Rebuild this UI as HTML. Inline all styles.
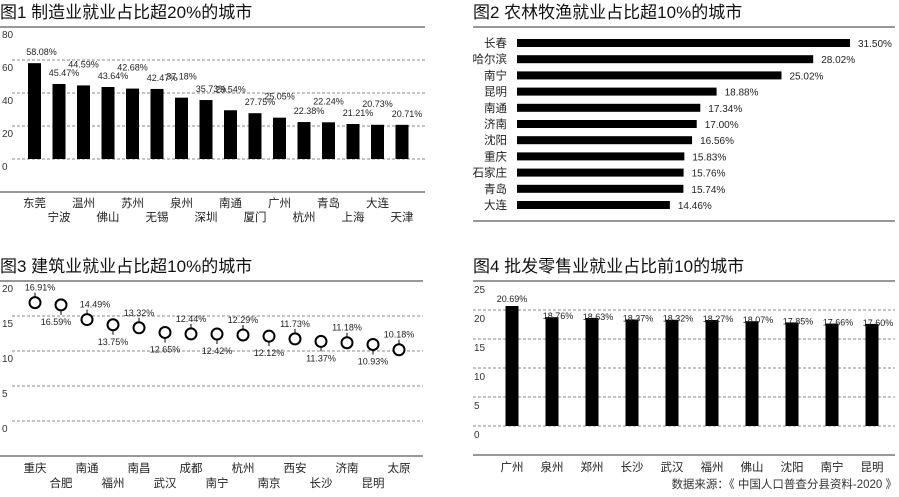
<!DOCTYPE html>
<html><head><meta charset="utf-8"><style>
body{margin:0;background:#fff;}
svg{display:block;font-family:"Liberation Sans","Noto Sans CJK SC",sans-serif;}
.t{font-size:17px;fill:#111;}
.tk{font-size:10px;fill:#333;}
.v{font-size:9px;fill:#222;}
.c{font-size:11.5px;fill:#222;}
.g{stroke:#888;stroke-dasharray:3,2;stroke-width:1;}
.s{stroke:#777;stroke-width:1.5;}
</style></head><body>
<svg id="svg" width="899" height="497" viewBox="0 0 899 497">
<text class="t" x="0" y="18">图1 制造业就业占比超20%的城市</text>
<text class="t" x="473" y="18">图2 农林牧渔就业占比超10%的城市</text>
<text class="t" x="0" y="272">图3 建筑业就业占比超10%的城市</text>
<text class="t" x="473" y="272">图4  批发零售业就业占比前10的城市</text>
<text x="897" y="488" text-anchor="end" style="font-size:11.5px;fill:#333">数据来源：《 中国人口普查分县资料-2020 》</text>
</svg>
<script>
const ns='http://www.w3.org/2000/svg';
const svg=document.getElementById('svg');
function mk(tag,attrs,txt){const e=document.createElementNS(ns,tag);for(const k in attrs)e.setAttribute(k,attrs[k]);if(txt!==undefined)e.textContent=txt;svg.appendChild(e);return e;}

// Chart 1 data
const c1Cities=['东莞','宁波','温州','佛山','苏州','无锡','泉州','深圳','南通','厦门','广州','杭州','青岛','上海','大连','天津'];
const c1Values=[58.08,45.47,44.59,43.64,42.68,42.47,37.18,35.73,29.54,27.75,25.05,22.38,22.24,21.21,20.73,20.71];
const c1Ticks=[0,20,40,60,80];
// Chart 2 data
const c2Cities=['长春','哈尔滨','南宁','昆明','南通','济南','沈阳','重庆','石家庄','青岛','大连'];
const c2Values=[31.50,28.02,25.02,18.88,17.34,17.00,16.56,15.83,15.76,15.74,14.46];
// Chart 3 data
const c3Cities=['重庆','合肥','南通','福州','南昌','武汉','成都','南宁','杭州','南京','西安','长沙','济南','昆明','太原'];
const c3Values=[16.91,16.59,14.49,13.75,13.32,12.65,12.44,12.42,12.29,12.12,11.73,11.37,11.18,10.93,10.18];
const c3Ticks=[0,5,10,15,20];
// Chart 4 data
const c4Cities=['广州','泉州','郑州','长沙','武汉','福州','佛山','沈阳','南宁','昆明'];
const c4Values=[20.69,18.76,18.63,18.37,18.32,18.27,18.07,17.85,17.66,17.60];
const c4Ticks=[0,5,10,15,20,25];

// Chart 1
{
 const y=v=>159-v*33/20, x=i=>34.5+i*24.5;
 let e=mk('line',{x1:0,x2:425,y1:27,y2:27,class:'s'});
 e=mk('line',{x1:0,x2:425,y1:192,y2:192,class:'s'});
 c1Ticks.forEach(t=>{
  if(t<80){e=mk('line',{x1:12,x2:425,y1:y(t),y2:y(t),class:'g'});}
  e=mk('text',{x:2,y:y(t)+11,class:'tk'},t);
 });
 c1Values.forEach((v,i)=>{
  e=mk('rect',{x:x(i)-6.5,y:y(v),width:13,height:159-y(v),fill:'#000'});
  const ly=y(v)-(i%2===0?8:-0)-4 - (i%2===1?0:0);
  e=mk('text',{x:x(i)+(i===0?7:i%2?5:0),y:(i%2===0? y(v)-8 : y(v)-8) - (i%2===0 && i>0?10:0),class:'v','text-anchor':'middle'},v.toFixed(2)+'%');
  e=mk('text',{x:x(i),y:i%2?221:207,class:'c','text-anchor':'middle'},c1Cities[i]);
 });
}
// Chart 2
{
 const x0=517, w=v=>v*333/31.5, y=i=>43+i*16.2;
 let e=mk('line',{x1:473,x2:895,y1:27,y2:27,class:'s'});
 e=mk('line',{x1:473,x2:895,y1:221,y2:221,class:'s'});
 c2Values.forEach((v,i)=>{
  e=mk('rect',{x:x0,y:y(i)-4,width:w(v),height:8,fill:'#000'});
  e=mk('text',{x:x0+w(v)+8,y:y(i)+4,class:'v',style:'font-size:10px'},v.toFixed(2)+'%');
  e=mk('text',{x:507,y:y(i)+4,class:'c','text-anchor':'end'},c2Cities[i]);
 });
}
// Chart 3
{
 const y=v=>421-v*7, x=i=>35+i*26;
 let e=mk('line',{x1:0,x2:423,y1:281,y2:281,class:'s'});
 e=mk('line',{x1:0,x2:423,y1:456,y2:456,class:'s'});
 c3Ticks.forEach(t=>{
  if(t<20){e=mk('line',{x1:12,x2:423,y1:y(t),y2:y(t),class:'g'});}
  e=mk('text',{x:2,y:y(t)+11,class:'tk'},t);
 });
 c3Values.forEach((v,i)=>{
  const up=i%2===0, cy=y(v);
  e=mk('line',{x1:x(i),x2:x(i),y1:up?cy-10:cy+5,y2:up?cy-5:cy+10,stroke:'#000','stroke-width':1});
  e=mk('circle',{cx:x(i),cy:cy,r:5.5,fill:'#fff',stroke:'#000','stroke-width':2});
  e=mk('text',{x:x(i)+(i===0?5:i===1?-5:i===2?8:0),y:up?cy-12:cy+20,class:'v','text-anchor':'middle'},v.toFixed(2)+'%');
  e=mk('text',{x:x(i),y:i%2?487:472,class:'c','text-anchor':'middle'},c3Cities[i]);
 });
}
// Chart 4
{
 const y=v=>426-v*29/5, x=i=>512+i*40;
 let e=mk('line',{x1:473,x2:895,y1:281,y2:281,class:'s'});
 e=mk('line',{x1:473,x2:895,y1:455,y2:455,class:'s'});
 c4Ticks.forEach(t=>{
  if(t<25){e=mk('line',{x1:473,x2:895,y1:y(t),y2:y(t),class:'g'});}
  e=mk('text',{x:474,y:y(t)+12,class:'tk'},t);
 });
 c4Values.forEach((v,i)=>{
  e=mk('rect',{x:x(i)-6.5,y:y(v),width:13,height:426-y(v),fill:'#000'});
  e=mk('text',{x:x(i)+(i?6:0),y:y(v)-4+(i?6:0),class:'v','text-anchor':'middle'},v.toFixed(2)+'%');
  e=mk('text',{x:x(i),y:471,class:'c','text-anchor':'middle'},c4Cities[i]);
 });
}
</script>
</body></html>
